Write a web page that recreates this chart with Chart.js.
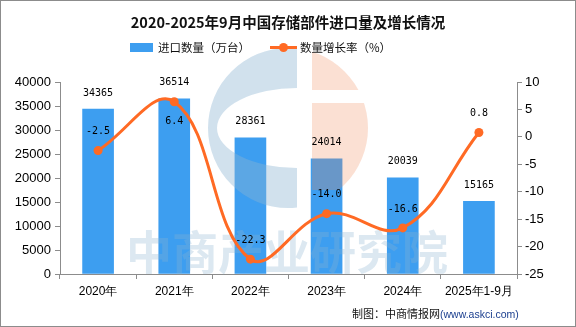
<!DOCTYPE html>
<html>
<head>
<meta charset="utf-8">
<title>存储部件进口量</title>
<script src="https://cdn.jsdelivr.net/npm/chart.js@4/dist/chart.umd.min.js"></script>
<style>
  body{margin:0;background:#fff;font-family:"Noto Sans CJK SC","Liberation Sans",sans-serif;}
  .wrap{position:relative;width:576px;height:327px;overflow:hidden;}
  .frame{position:absolute;left:0;top:0;width:576px;height:327px;box-sizing:border-box;border:1px solid #8c8c8c;pointer-events:none;}
  .title{position:absolute;left:0;top:11px;width:576px;text-align:center;font-size:14.5px;font-weight:bold;color:#111;line-height:22px;}
  .legend{position:absolute;top:38px;height:18px;font-size:11.5px;line-height:18px;color:#111;}
  .sw-bar{position:absolute;left:130px;top:43px;width:23px;height:9px;background:#3d9ef0;}
  .sw-line{position:absolute;left:270px;top:46px;width:27px;height:3px;background:#ff6a24;}
  .sw-dot{position:absolute;left:279px;top:43px;width:9px;height:9px;border-radius:50%;background:#ff6a24;}
  .foot{position:absolute;left:352px;top:304px;font-size:11px;line-height:18px;color:#111;white-space:nowrap;}
  .foot span{color:#1b3f8f;font-family:"Liberation Sans",sans-serif;font-size:10.5px;}
  canvas{position:absolute;left:0;top:0;}
</style>
</head>
<body>
<div class="wrap">
  <canvas id="c" width="576" height="327"></canvas>
  <div class="title">2020-2025年9月中国存储部件进口量及增长情况</div>
  <div class="sw-bar"></div>
  <div class="legend" style="left:158px">进口数量（万台）</div>
  <div class="sw-line"></div><div class="sw-dot"></div>
  <div class="legend" style="left:300px">数量增长率（%）</div>
  <div class="foot">制图：中商情报网<span>(www.askci.com)</span></div>
  <div class="frame"></div>
</div>
<script>
var years = ['2020年','2021年','2022年','2023年','2024年','2025年1-9月'];
var imports = [34365, 36514, 28361, 24014, 20039, 15165];
var growth = [-2.5, 6.4, -22.3, -14.0, -16.6, 0.8];

var BLUE = '#3d9ef0', ORANGE = '#ff6a24', AXIS = '#8c8c8c';

// faint logo + name stamped over the bars, under the line
var stamp = {
  id: 'stamp',
  afterDatasetDraw: function(chart, args){
    if(args.index !== 0) return;
    var ctx = chart.ctx;
    ctx.save();
    // blue C
    ctx.save();
    ctx.beginPath(); ctx.rect(0,0,297,327); ctx.clip();
    ctx.beginPath();
    ctx.arc(288,128,80,0,Math.PI*2);
    ctx.ellipse(297,128,80,40,0,0,Math.PI*2);
    ctx.fillStyle = 'rgba(140,180,210,0.4)';
    ctx.fill('evenodd');
    ctx.restore();
    // orange half
    ctx.save();
    ctx.beginPath(); ctx.rect(312,0,100,90); ctx.rect(312,103,100,87); ctx.clip();
    ctx.beginPath();
    ctx.arc(288,128,80,0,Math.PI*2);
    ctx.fillStyle = 'rgba(240,130,80,0.25)';
    ctx.fill();
    ctx.restore();
    // name
    ctx.font = 'bold 46px "Noto Sans CJK SC"';
    ctx.fillStyle = 'rgba(140,180,210,0.3)';
    ctx.textAlign = 'center';
    ctx.textBaseline = 'middle';
    ctx.fillText('中商产业研究院', 287, 252);
    ctx.restore();
  }
};

// value labels for bars and line points
var valueLabels = {
  id: 'valueLabels',
  afterDatasetsDraw: function(chart){
    var ctx = chart.ctx;
    var bars = chart.getDatasetMeta(0).data;
    var pts = chart.getDatasetMeta(1).data;
    ctx.save();
    ctx.font = '10px "DejaVu Sans Mono"';
    ctx.fillStyle = '#000';
    ctx.textAlign = 'center';
    ctx.textBaseline = 'middle';
    bars.forEach(function(b, i){
      ctx.fillText(String(imports[i]), b.x, b.y - 16);
    });
    pts.forEach(function(p, i){
      var y = p.y - 19;
      var barLabelY = bars[i].y - 16;
      if(Math.abs(y - barLabelY) < 14) y = p.y + 20;
      ctx.fillText(growth[i].toFixed(1), p.x, y);
    });
    ctx.restore();
  }
};

var tickFont = {family:'"Liberation Sans", Arial, sans-serif', size:13};
var plain = function(v){ return String(v); };

new Chart(document.getElementById('c'), {
  data: {
    labels: years,
    datasets: [
      {type:'bar', label:'进口数量（万台）', data:imports, backgroundColor:BLUE,
       yAxisID:'y', order:1, barThickness:31},
      {type:'line', label:'数量增长率（%）', data:growth, borderColor:ORANGE,
       backgroundColor:ORANGE, borderWidth:3, pointRadius:4.5, pointBorderWidth:0,
       tension:0.4, yAxisID:'y1', order:0}
    ]
  },
  options: {
    responsive:false,
    animation:false,
    layout:{padding:{top:82,left:0,right:0,bottom:0}},
    plugins:{legend:{display:false}, tooltip:{enabled:false}, title:{display:false}},
    scales:{
      x:{
        grid:{display:true, drawOnChartArea:false, offset:true, color:AXIS, tickLength:5},
        border:{color:AXIS},
        ticks:{color:'#000', font:{family:tickFont.family, size:12}, padding:5, maxRotation:0, autoSkip:false},
        afterFit:function(s){ s.height = 53; }
      },
      y:{
        position:'left', min:0, max:40000,
        grid:{display:true, drawOnChartArea:false, color:AXIS, tickLength:5},
        border:{color:AXIS},
        ticks:{stepSize:5000, color:'#000', font:tickFont, padding:4, callback:plain},
        afterFit:function(s){ s.width = 60; }
      },
      y1:{
        position:'right', min:-25, max:10,
        grid:{display:true, drawOnChartArea:false, color:AXIS, tickLength:5},
        border:{color:AXIS},
        ticks:{stepSize:5, color:'#000', font:tickFont, padding:3, callback:plain},
        afterFit:function(s){ s.width = 59; }
      }
    }
  },
  plugins:[stamp, valueLabels]
});
</script>
</body>
</html>
